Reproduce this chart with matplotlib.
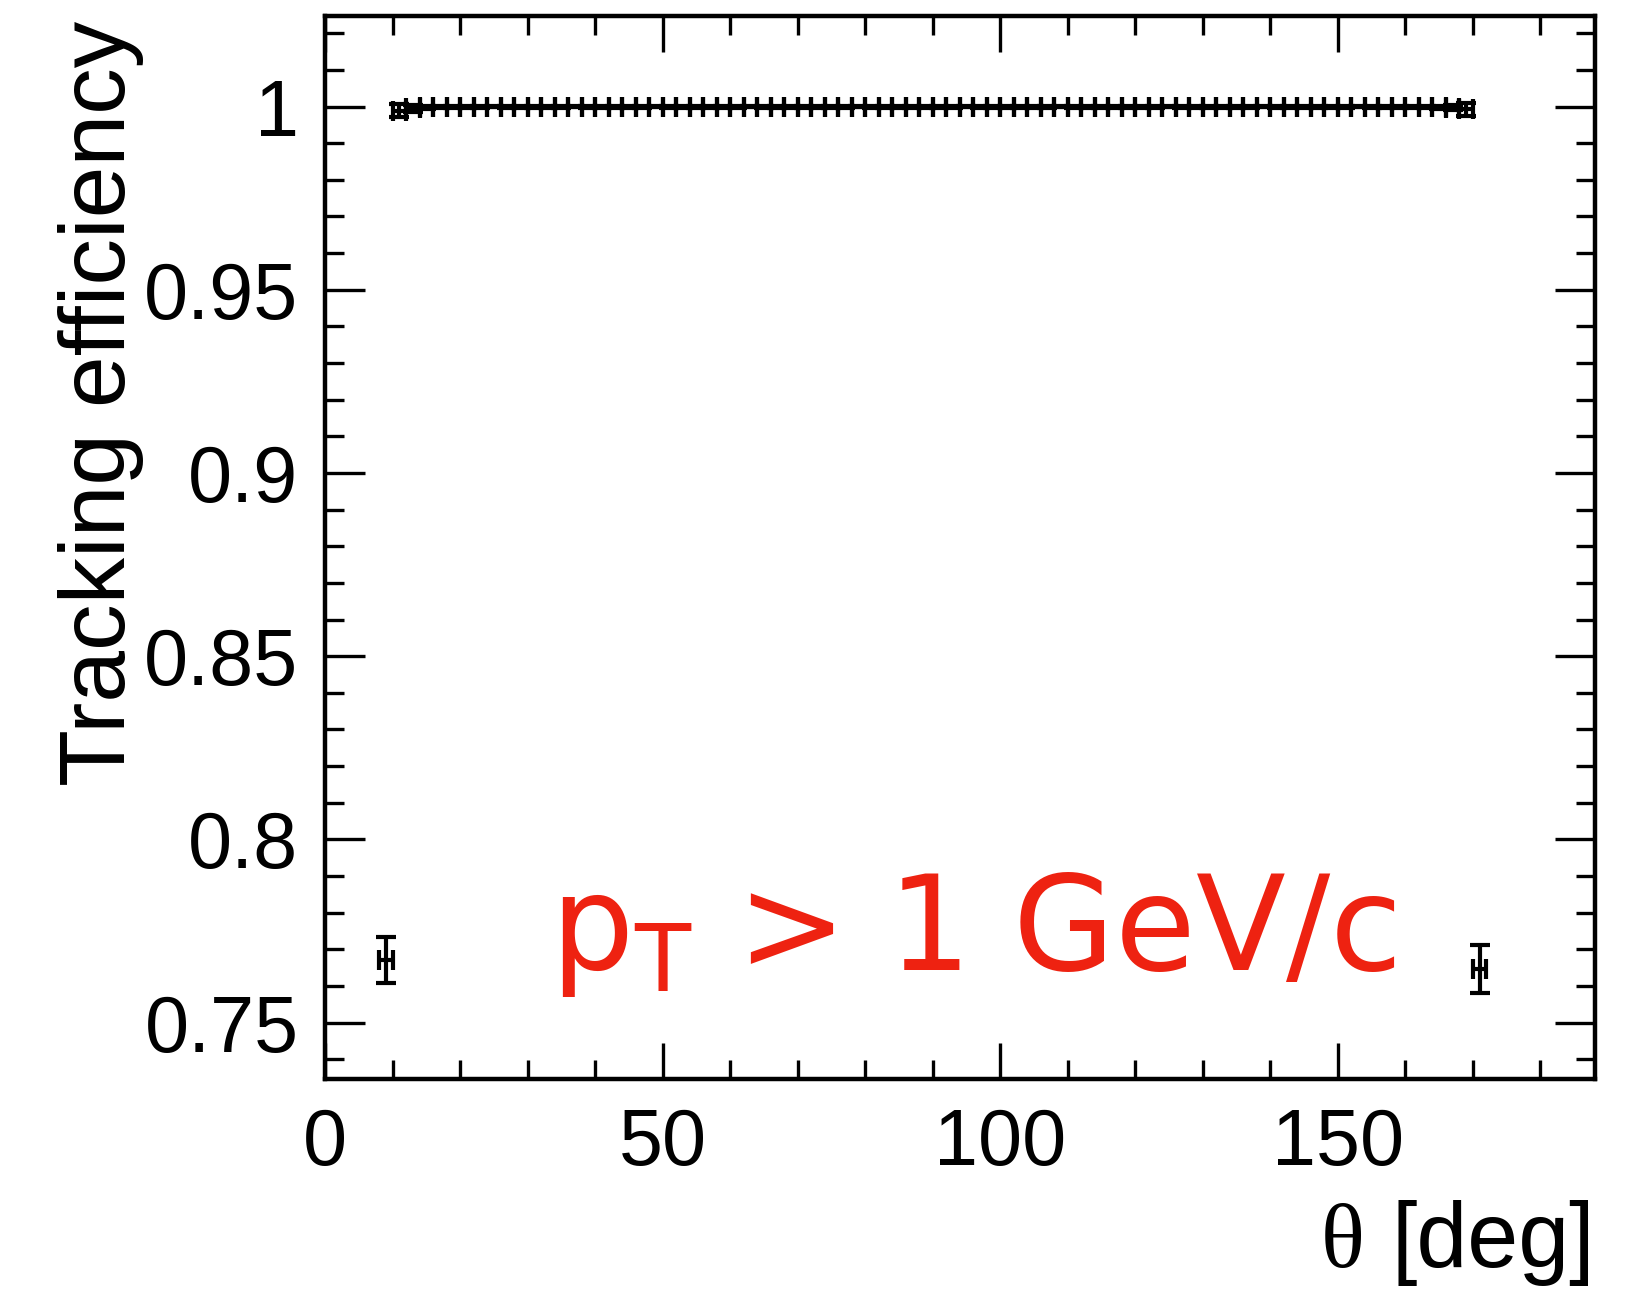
import matplotlib
matplotlib.use('Agg')
import matplotlib.pyplot as plt
from matplotlib.ticker import MultipleLocator, FormatStrFormatter

# bin centres [deg], 2 deg wide bins
theta = [
    9, 11, 13, 15, 17, 19, 21, 23, 25, 27,
    29, 31, 33, 35, 37, 39, 41, 43, 45, 47,
    49, 51, 53, 55, 57, 59, 61, 63, 65, 67,
    69, 71, 73, 75, 77, 79, 81, 83, 85, 87,
    89, 91, 93, 95, 97, 99, 101, 103, 105, 107,
    109, 111, 113, 115, 117, 119, 121, 123, 125, 127,
    129, 131, 133, 135, 137, 139, 141, 143, 145, 147,
    149, 151, 153, 155, 157, 159, 161, 163, 165, 167,
    169, 171,
]
theta_halfwidth = 1.0

eff = [
    0.7670, 0.9989, 0.9995, 0.9998, 0.9999, 0.9999, 0.9998, 0.9999, 1.0000, 0.9999,
    0.9999, 0.9998, 0.9999, 0.9999, 1.0000, 0.9999, 0.9999, 0.9999, 0.9998, 0.9999,
    1.0000, 0.9999, 0.9999, 0.9999, 0.9998, 0.9999, 0.9999, 1.0000, 0.9999, 0.9999,
    0.9999, 0.9999, 0.9998, 0.9999, 0.9999, 1.0000, 0.9999, 0.9999, 0.9999, 0.9999,
    0.9999, 0.9999, 0.9999, 1.0000, 0.9999, 0.9999, 0.9998, 0.9999, 0.9999, 0.9999,
    1.0000, 0.9999, 0.9999, 0.9999, 0.9998, 0.9999, 0.9999, 0.9999, 1.0000, 0.9999,
    0.9999, 0.9998, 0.9999, 0.9999, 0.9999, 1.0000, 0.9999, 0.9999, 0.9998, 0.9999,
    0.9999, 0.9999, 1.0000, 0.9999, 0.9999, 0.9998, 0.9999, 0.9999, 0.9998, 0.9997,
    0.9992, 0.7647,
]
eff_err = [
    0.0063, 0.0018, 0.0010, 0.0004, 0.0003, 0.0003, 0.0003, 0.0003, 0.0002, 0.0003,
    0.0003, 0.0003, 0.0003, 0.0003, 0.0002, 0.0003, 0.0003, 0.0003, 0.0003, 0.0003,
    0.0002, 0.0003, 0.0003, 0.0003, 0.0003, 0.0003, 0.0003, 0.0002, 0.0003, 0.0003,
    0.0003, 0.0003, 0.0003, 0.0003, 0.0003, 0.0002, 0.0003, 0.0003, 0.0003, 0.0003,
    0.0003, 0.0003, 0.0003, 0.0002, 0.0003, 0.0003, 0.0003, 0.0003, 0.0003, 0.0003,
    0.0002, 0.0003, 0.0003, 0.0003, 0.0003, 0.0003, 0.0003, 0.0003, 0.0002, 0.0003,
    0.0003, 0.0003, 0.0003, 0.0003, 0.0003, 0.0002, 0.0003, 0.0003, 0.0003, 0.0003,
    0.0003, 0.0003, 0.0002, 0.0003, 0.0003, 0.0003, 0.0003, 0.0003, 0.0004, 0.0006,
    0.0018, 0.0065,
]

x_ticks = [0, 50, 100, 150]
y_ticks = [0.75, 0.8, 0.85, 0.9, 0.95, 1.0]

W, H = 1635, 1289
fig = plt.figure(figsize=(W / 100, H / 100), dpi=100)
ax = fig.add_axes([325 / W, 1 - 1079 / H, 1270 / W, 1063 / H])

ax.errorbar(theta, eff, xerr=theta_halfwidth, yerr=eff_err, fmt='none',
            ecolor='black', elinewidth=3.0, capsize=7.2, capthick=3.0)

ax.set_xlim(0, 188.1)
ax.set_ylim(0.7346, 1.0247)

ax.set_xticks(x_ticks)
ax.set_yticks(y_ticks)
ax.xaxis.set_minor_locator(MultipleLocator(10))
ax.yaxis.set_minor_locator(MultipleLocator(0.01))
ax.yaxis.set_major_formatter(FormatStrFormatter('%g'))

for s in ax.spines.values():
    s.set_linewidth(3.2)

ax.tick_params(which='both', direction='in', top=True, right=True, width=2.4)
ax.tick_params(axis='x', which='major', length=26, pad=20)
ax.tick_params(axis='x', which='minor', length=13.5)
ax.tick_params(axis='y', which='major', length=28.5, pad=19)
ax.tick_params(axis='y', which='minor', length=13.5)
for lab in ax.get_xticklabels() + ax.get_yticklabels():
    lab.set_fontfamily('Liberation Sans')
    lab.set_fontsize(57)

# axis titles, right/top aligned like the original
fig.text(125 / W, 1 - 21 / H, 'Tracking efficiency', rotation=90,
         rotation_mode='anchor', ha='right', va='baseline',
         family='Liberation Sans', fontsize=67)
fig.text(1595 / W, 1 - 1267 / H, '[deg]', ha='right', va='baseline',
         family='Liberation Sans', fontsize=66)
fig.text(1365 / W, 1 - 1267 / H, 'θ', ha='right', va='baseline',
         family='Liberation Serif', fontsize=66)

plt.rcParams['mathtext.fontset'] = 'custom'
plt.rcParams['mathtext.rm'] = 'DejaVu Sans'
fig.text(550 / W, 1 - 970 / H, r'$\mathrm{p_{T}}$ > 1 GeV/c', ha='left',
         va='baseline', family='DejaVu Sans', fontsize=94.5, color='#ee2211')

fig.savefig('out.png', dpi=100)
